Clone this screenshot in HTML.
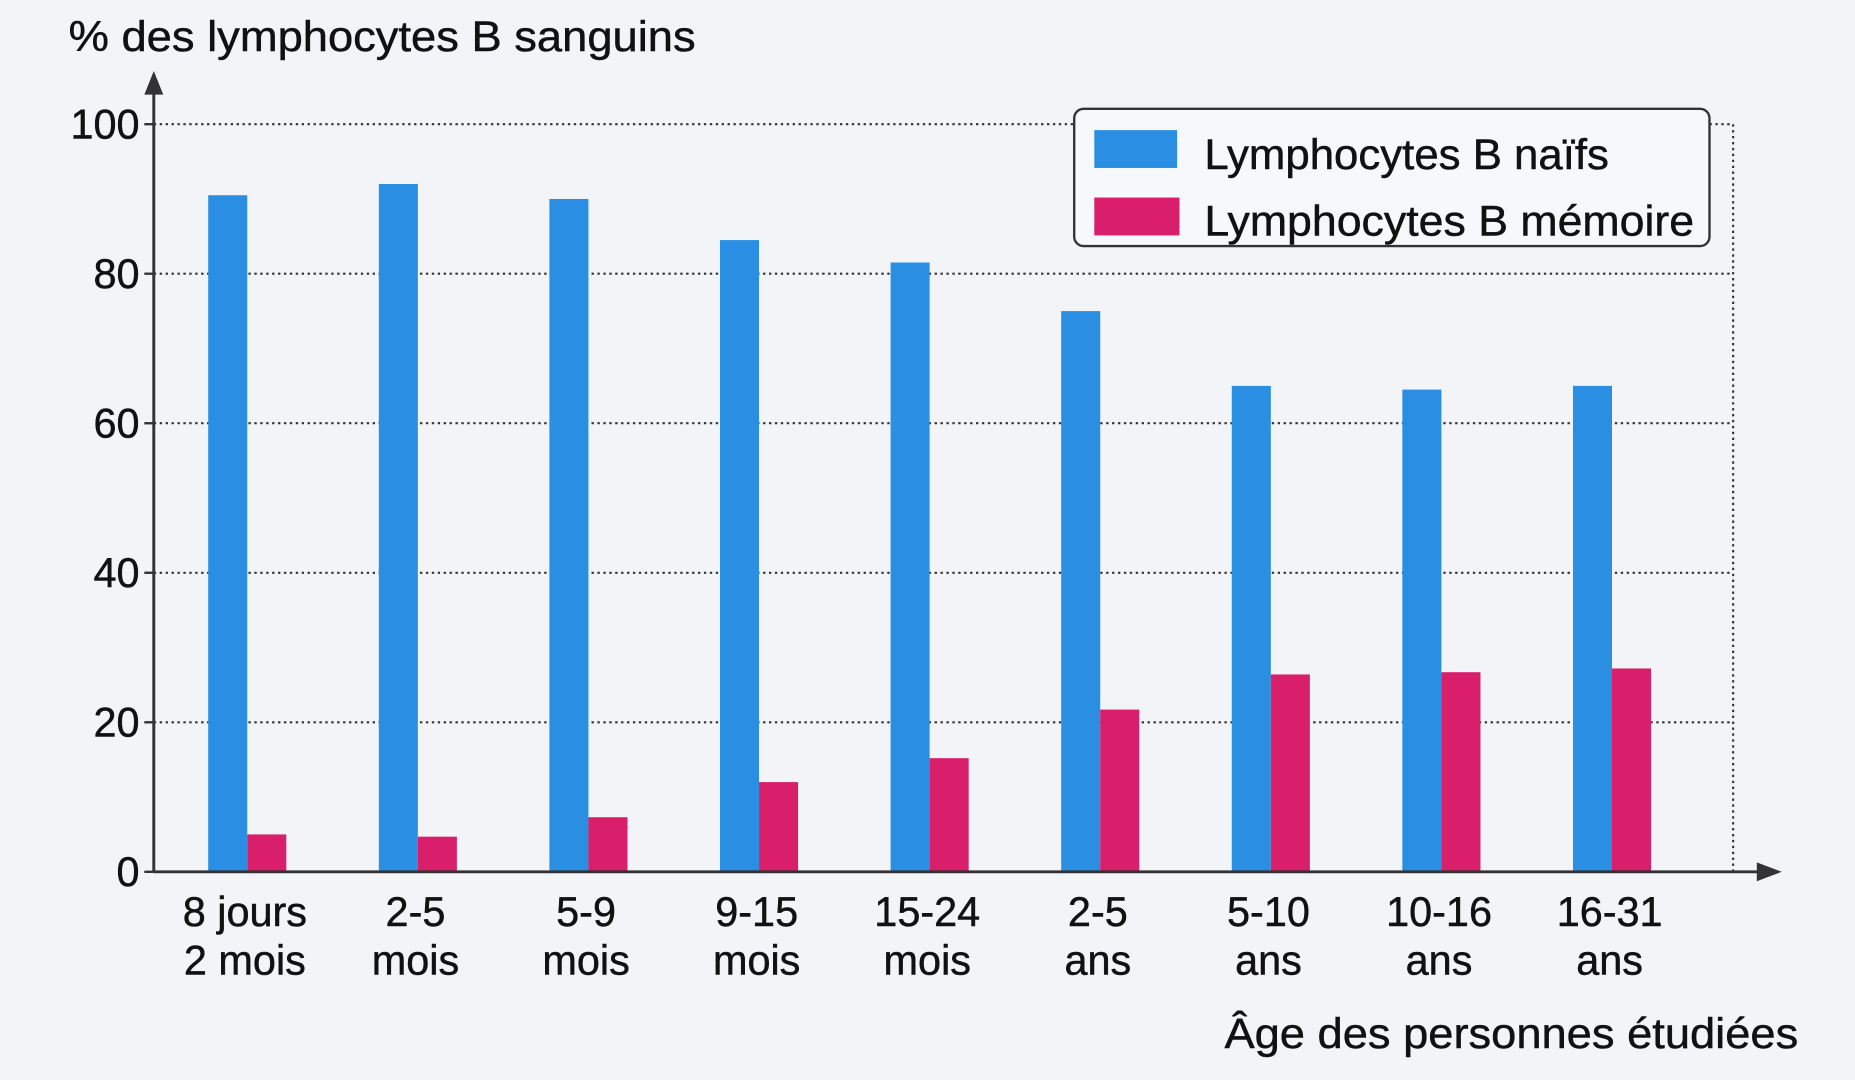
<!DOCTYPE html>
<html><head><meta charset="utf-8"><style>
html,body{margin:0;padding:0;background:#f3f4f8;}
svg{display:block;}
text{font-family:"Liberation Sans Narrow","Liberation Sans",sans-serif;fill:#111;stroke:#111;stroke-width:0.4;}
</style></head><body>
<svg id="chart" width="1855" height="1080" viewBox="0 0 1568 913" preserveAspectRatio="none" xmlns="http://www.w3.org/2000/svg">
<rect x="0" y="0" width="1568" height="913" fill="#f3f4f8"/>
<g id="grid"></g>
<g id="bars"></g>
<g id="axes"></g>
<text x="58" y="43" font-size="36" textLength="530" lengthAdjust="spacingAndGlyphs">% des lymphocytes B sanguins</text>
<text x="1035" y="886" font-size="36" textLength="485" lengthAdjust="spacingAndGlyphs">Âge des personnes étudiées</text>
<g>
<rect x="908" y="92" width="537" height="116" rx="8" fill="#f7f8fb" stroke="#333" stroke-width="2"/>
<rect x="925" y="110" width="70" height="32" fill="#2a8fe2"/>
<text x="1018" y="143" font-size="36" textLength="342" lengthAdjust="spacingAndGlyphs">Lymphocytes B naïfs</text>
<rect x="925" y="167" width="72" height="32" fill="#d91e6b"/>
<text x="1018" y="199" font-size="36" textLength="414" lengthAdjust="spacingAndGlyphs">Lymphocytes B mémoire</text>
</g>
</svg>
<script>
const categoriesLine1 = ["8 jours","2-5","5-9","9-15","15-24","2-5","5-10","10-16","16-31"];
const categoriesLine2 = ["2 mois","mois","mois","mois","mois","ans","ans","ans","ans"];
const naifs = [90.5, 92, 90, 84.5, 81.5, 75, 65, 64.5, 65];
const memoire = [5, 4.7, 7.3, 12, 15.2, 21.7, 26.4, 26.7, 27.2];
const yTicks = [0, 20, 40, 60, 80, 100];

const NS = "http://www.w3.org/2000/svg";
const x0 = 130, y0 = 737, yTop = 105, xRight = 1465;
function yScale(v){ return y0 - (v/100)*(y0 - yTop); }
function xScale(i){ return 176 + i*144.2; }
function mk(tag, attrs, parent){ const e = document.createElementNS(NS, tag); for (const k in attrs) e.setAttribute(k, attrs[k]); parent.appendChild(e); return e; }

const grid = document.getElementById('grid');
const bars = document.getElementById('bars');
const axes = document.getElementById('axes');

yTicks.forEach(t => {
  const y = yScale(t);
  if (t > 0) {
    const l = mk('line', {x1:x0, x2:xRight, y1:y, y2:y, stroke:'#333', 'stroke-width':1.8, 'stroke-dasharray':'2 3'}, grid);
    
    
  }
  const tk = mk('line', {x1:x0-8, x2:x0, y1:y, y2:y, stroke:'#333', 'stroke-width':2}, axes);
  
  
  const tx = mk('text', {x:x0-12, y:y+12, 'font-size':35, 'text-anchor':'end'}, axes);
  tx.textContent = t;
  
  
});
const rv = mk('line', {x1:xRight, x2:xRight, y1:yTop, y2:y0, stroke:'#333', 'stroke-width':1.8, 'stroke-dasharray':'2 3'}, grid);



naifs.forEach((v, i) => {
  const x = xScale(i);
  const b = mk('rect', {x:x, y:yScale(v), width:33, height:y0-yScale(v), fill:'#2a8fe2'}, bars);
  
  
  const m = memoire[i];
  const b2 = mk('rect', {x:x+33, y:yScale(m), width:33, height:y0-yScale(m), fill:'#d91e6b'}, bars);
  
  
  const t1 = mk('text', {x:x+31, y:783, 'font-size':35, 'text-anchor':'middle'}, axes);
  t1.textContent = categoriesLine1[i];
  
  
  const t2 = mk('text', {x:x+31, y:824, 'font-size':35, 'text-anchor':'middle'}, axes);
  t2.textContent = categoriesLine2[i];
  
  
});

const ya = mk('line', {x1:x0, x2:x0, y1:y0, y2:70, stroke:'#333', 'stroke-width':2.5}, axes);


const yar = mk('path', {d:'M'+(x0-8)+' 80 L'+x0+' 60 L'+(x0+8)+' 80 Z', fill:'#333'}, axes);


const xa = mk('line', {x1:x0, x2:1495, y1:y0, y2:y0, stroke:'#333', 'stroke-width':2.5}, axes);


const xar = mk('path', {d:'M1485 '+(y0-8)+' L1506 '+y0+' L1485 '+(y0+8)+' Z', fill:'#333'}, axes);


</script>
</body></html>
